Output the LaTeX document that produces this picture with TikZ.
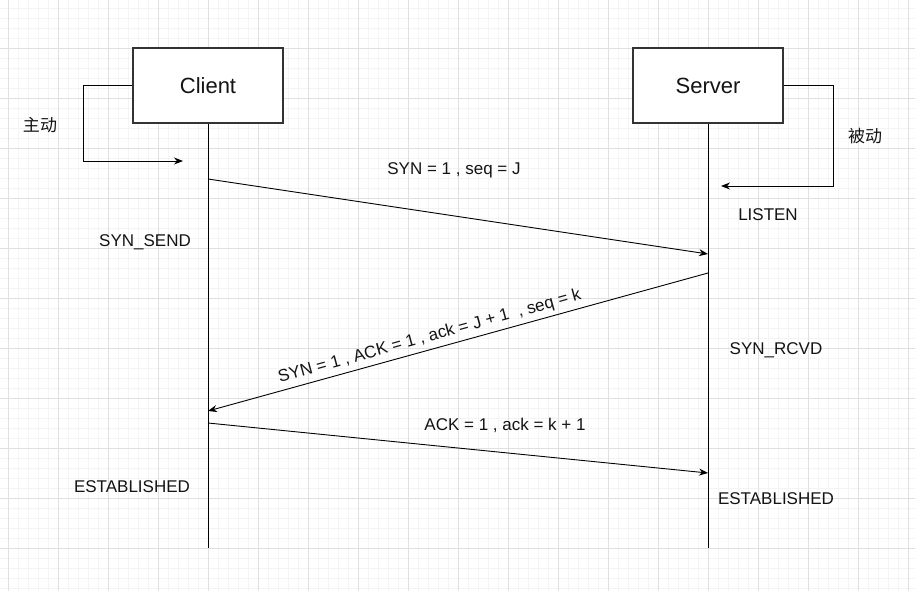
\documentclass[tikz,border=0pt]{standalone}
\usepackage{fontspec}
\setmainfont{Liberation Sans}
\newfontfamily\cjk{Noto Sans CJK SC}
\usetikzlibrary{positioning,arrows.meta,calc}
\definecolor{gridminor}{RGB}{244,244,244}
\definecolor{gridmajor}{RGB}{224,224,224}
\definecolor{boxborder}{RGB}{51,51,51}
\definecolor{textcol}{RGB}{20,20,20}

\begin{document}
\begin{tikzpicture}[
                x=1pt, y=-1pt,
                >={Stealth[length=9pt, width=7pt]},
                mainnode/.style={rectangle, draw=boxborder, line width=1.4pt, fill=white, minimum width=150pt, minimum height=75pt, inner sep=0pt, font=\fontsize{22}{26}\selectfont, text=textcol},
                sublabel/.style={font=\fontsize{17}{20}\selectfont, text=textcol, inner sep=1pt},
                cjklabel/.style={font=\cjk\fontsize{17}{20}\selectfont, text=textcol, inner sep=1pt},
                lifeline/.style={draw=black, line width=0.9pt},
                arrow/.style={->, draw=black, line width=0.9pt}
                ]
                \useasboundingbox (0,0) rectangle (915,591);
                \fill[white] (0,0) rectangle (915,591);

                % grid background
                \foreach \gx in {8,18,...,908} {\draw[gridminor, line width=0.5pt] (\gx,0) -- (\gx,591);}
                \foreach \gy in {8,18,...,588} {\draw[gridminor, line width=0.5pt] (0,\gy) -- (915,\gy);}
                \foreach \gx in {8,58,...,908} {\draw[gridmajor, line width=0.6pt] (\gx,0) -- (\gx,591);}
                \foreach \gy in {48,98,...,548} {\draw[gridmajor, line width=0.6pt] (0,\gy) -- (915,\gy);}

                % lifelines
                \coordinate (cend) at (208,548);
                \coordinate (send) at (708,548);
                \node[mainnode] (client) at (208,85.5) {Client};
                \node[mainnode] (server) at (708,85.5) {Server};
                \draw[lifeline] (client.south) -- (cend);
                \draw[lifeline] (server.south) -- (send);

                % self loops
                \coordinate (cturn) at (83,161);
                \coordinate (cact) at (183,161);
                \coordinate (sturn) at (833,186);
                \coordinate (sact) at (721,186);
                \draw[arrow] (client.west) -| (cturn) -- (cact);
                \draw[arrow] (server.east) -| (sturn) -- (sact);
                \node[cjklabel] (active) at (40,125) {主动};
                \node[cjklabel] (passive) at (865,136) {被动};

                % message end points
                \coordinate (c1) at (208,179);
                \coordinate (s1) at (708,254);
                \coordinate (s2) at (708,273);
                \coordinate (c2) at (208,411);
                \coordinate (c3) at (208,423);
                \coordinate (s3) at (708,473);

                \draw[arrow] (c1) -- (s1);
                \draw[arrow] (s2) -- (c2) node[sublabel, pos=0.55, sloped, above=3pt] {SYN = 1 , ACK = 1 , ack = J + 1 \ , seq = k};
                \draw[arrow] (c3) -- (s3);

                \node[sublabel] (syn) at (454,170) {SYN = 1 , seq = J};
                \node[sublabel] (ack) at (505,425) {ACK = 1 , ack = k + 1};

                % states
                \node[sublabel] (listen) at (768,215) {LISTEN};
                \node[sublabel] (synsend) at (145,242) {SYN\_SEND};
                \node[sublabel] (synrcvd) at (776,350) {SYN\_RCVD};
                \node[sublabel] (estc) at (132,487) {ESTABLISHED};
                \node[sublabel] (ests) at (776,499) {ESTABLISHED};
            \end{tikzpicture}
\end{document}
